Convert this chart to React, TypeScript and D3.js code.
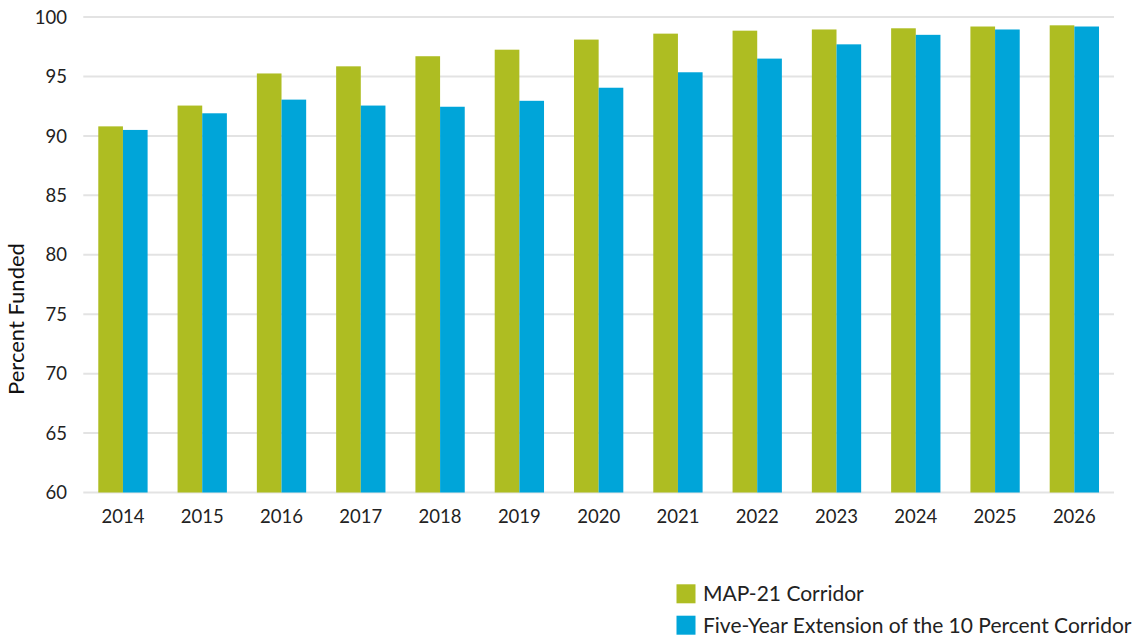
import React, { useEffect, useRef } from "react";
import * as d3 from "d3";

const years = ["2014", "2015", "2016", "2017", "2018", "2019", "2020", "2021", "2022", "2023", "2024", "2025", "2026"];
const map21 = [90.8, 92.55, 95.25, 95.85, 96.7, 97.25, 98.1, 98.6, 98.85, 98.95, 99.05, 99.2, 99.3];
const extension = [90.5, 91.9, 93.05, 92.55, 92.45, 92.95, 94.05, 95.35, 96.5, 97.7, 98.5, 98.95, 99.2];
const yTicks = [60, 65, 70, 75, 80, 85, 90, 95, 100];
const seriesNames = ["MAP-21 Corridor", "Five-Year Extension of the 10 Percent Corridor"];
const colors = ["#aebd22", "#00a5d9"];

const App = () => {
  const ref = useRef<SVGSVGElement>(null);

  useEffect(() => {
    const svg = d3.select(ref.current);
    svg.selectAll("*").remove();

    const left = 83.3, right = 1114, top = 17, bottom = 492.5;
    const font = "Lato, 'Open Sans', sans-serif";

    const x = d3.scaleBand().domain(years).range([left, right]).paddingInner(0.378).paddingOuter(0.189);
    const inner = d3.scaleBand().domain(["0", "1"]).range([0, x.bandwidth()]);
    const y = d3.scaleLinear().domain([60, 100]).range([bottom, top]);

    // gridlines
    svg.append("g")
      .selectAll("line")
      .data(yTicks)
      .enter()
      .append("line")
      .attr("x1", left)
      .attr("x2", right)
      .attr("y1", d => y(d))
      .attr("y2", d => y(d))
      .attr("stroke", "#e3e3e3")
      .attr("stroke-width", 2);

    // y tick labels
    svg.append("g")
      .selectAll("text")
      .data(yTicks)
      .enter()
      .append("text")
      .attr("x", 67)
      .attr("y", d => y(d))
      .attr("dy", "0.36em")
      .attr("text-anchor", "end")
      .attr("font-family", font)
      .attr("font-size", 18.5)
      .attr("fill", "#222")
      .text(d => d);

    // bars
    [map21, extension].forEach((vals, s) => {
      svg.append("g")
        .selectAll("rect")
        .data(vals)
        .enter()
        .append("rect")
        .attr("x", (_d, i) => (x(years[i]) as number) + (inner(String(s)) as number))
        .attr("width", inner.bandwidth())
        .attr("y", d => y(d))
        .attr("height", d => y(60) - y(d))
        .attr("fill", colors[s]);
    });

    // x labels
    svg.append("g")
      .selectAll("text")
      .data(years)
      .enter()
      .append("text")
      .attr("x", d => (x(d) as number) + x.bandwidth() / 2)
      .attr("y", 523)
      .attr("text-anchor", "middle")
      .attr("font-family", font)
      .attr("font-size", 18.5)
      .attr("fill", "#222")
      .text(d => d);

    // y axis title
    svg.append("text")
      .attr("transform", `translate(24,319) rotate(-90)`)
      .attr("text-anchor", "middle")
      .attr("font-family", font)
      .attr("font-size", 22)
      .attr("fill", "#111")
      .text("Percent Funded");

    // legend
    const legend = svg.append("g")
      .selectAll("g")
      .data(seriesNames)
      .enter()
      .append("g")
      .attr("transform", (_d, i) => `translate(676.5,${584.3 + i * 31.4})`);
    legend.append("rect")
      .attr("width", 19)
      .attr("height", 19)
      .attr("fill", (_d, i) => colors[i]);
    legend.append("text")
      .attr("x", 26.5)
      .attr("y", 9.5)
      .attr("dy", "0.36em")
      .attr("font-family", font)
      .attr("font-size", 21)
      .attr("fill", "#222")
      .text(d => d);
  }, []);

  return (
    <svg ref={ref} width={1134} height={638} style={{ position: "absolute", left: 0, top: 0 }}></svg>
  );
};

export default App;
